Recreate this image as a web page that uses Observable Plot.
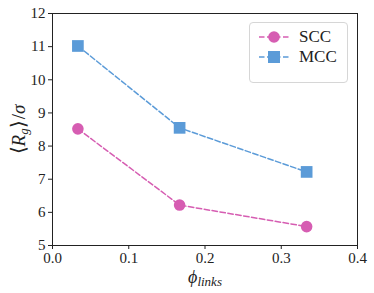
<!DOCTYPE html>
<html><head><meta charset="utf-8">
<script src="https://cdn.jsdelivr.net/npm/d3@7"></script>
<script src="https://cdn.jsdelivr.net/npm/@observablehq/plot@0.6"></script>
<style>
body{margin:0;background:#fff;}
#wrap{position:relative;width:374px;height:293px;}
#wrap svg, #wrap svg text{font-family:"Liberation Serif","Times New Roman",serif !important;}
#legend{position:absolute;left:249px;top:22px;width:97px;height:59px;border:1px solid #d6d6d6;border-radius:4px;background:rgba(255,255,255,0.85);}
.row{position:absolute;left:0;height:20px;display:flex;align-items:center;}
.row span{font-size:17px;margin-left:9px;color:#222;font-family:"Liberation Serif","Times New Roman",serif;}
</style>
</head><body><div id="wrap"><div id="legend"></div></div>
<script>
const phi = [0.0333, 0.1667, 0.3333];
const scc = [8.52, 6.22, 5.57];
const mcc = [11.02, 8.55, 7.22];
const seriesNames = ["SCC", "MCC"];
const seriesColors = ["#d65db2", "#5b9bd8"];
const seriesSymbols = ["circle", "square"];
const xTicks = [0, 0.1, 0.2, 0.3, 0.4];
const yTicks = [5, 6, 7, 8, 9, 10, 11, 12];

const data = [];
[scc, mcc].forEach((vals, s) => vals.forEach((v, i) => data.push({series: seriesNames[s], x: phi[i], y: v})));

const chart = Plot.plot({
  width: 374, height: 293,
  marginLeft: 52, marginRight: 17, marginTop: 13, marginBottom: 48,
  style: {fontSize: "15px", color: "#222", background: "white"},
  x: {domain: [0, 0.4]},
  y: {domain: [5, 12]},
  color: {domain: seriesNames, range: seriesColors},
  symbol: {domain: seriesNames, range: seriesSymbols},
  marks: [
    Plot.frame({stroke: "#222", strokeWidth: 1}),
    Plot.axisX({ticks: xTicks, tickFormat: d3.format(".1f"), tickSize: 4, tickPadding: 3, label: "ϕlinks", labelAnchor: "center", labelArrow: "none", labelOffset: 37, fontSize: 15}),
    Plot.axisY({ticks: yTicks, tickFormat: d3.format("d"), tickSize: 4, tickPadding: 3, label: "⟨Rg⟩/σ", labelAnchor: "center", labelArrow: "none", labelOffset: 38, fontSize: 15}),
    Plot.line(data, {x: "x", y: "y", z: "series", stroke: "series", strokeWidth: 1.5, strokeDasharray: "5.5,2.5"}),
    Plot.dot(data.filter(d => d.series === "SCC"), {x: "x", y: "y", fill: "series", symbol: "series", r: 5.8, stroke: "none"}),
    Plot.dot(data.filter(d => d.series === "MCC"), {x: "x", y: "y", fill: "series", symbol: "series", r: 6.6, stroke: "none"})
  ]
});
document.getElementById("wrap").prepend(chart);

// rich labels
const xl = chart.querySelector('[aria-label="x-axis label"] text');
if (xl) { xl.innerHTML = '<tspan font-style="italic" font-size="18">ϕ</tspan><tspan font-style="italic" font-size="13" dy="3">links</tspan>'; }
const yl = chart.querySelector('[aria-label="y-axis label"] text');
if (yl) { yl.innerHTML = '<tspan font-size="20">⟨</tspan><tspan font-style="italic" font-size="19">R</tspan><tspan font-style="italic" font-size="13" dy="3">g</tspan><tspan font-size="20" dy="-3">⟩</tspan><tspan font-size="19" dx="1">/</tspan><tspan font-style="italic" font-size="19">σ</tspan>'; }

// legend
const leg = document.getElementById("legend");
seriesNames.forEach((name, i) => {
  const row = document.createElement("div");
  row.className = "row";
  row.style.top = (4 + i * 19.5) + "px";
  row.style.left = "8px";
  const c = seriesColors[i];
  const marker = seriesSymbols[i] === "circle"
    ? `<circle cx="16" cy="10" r="5.8" fill="${c}"/>`
    : `<rect x="10" y="4" width="12" height="12" fill="${c}"/>`;
  row.innerHTML = `<svg width="32" height="20"><line x1="1" x2="31" y1="10" y2="10" stroke="${c}" stroke-width="1.5" stroke-dasharray="5.5,2.5"/>${marker}</svg><span>${name}</span>`;
  leg.appendChild(row);
});
</script>
</body></html>
